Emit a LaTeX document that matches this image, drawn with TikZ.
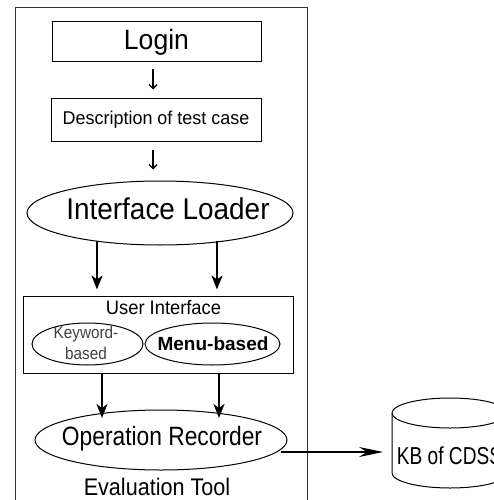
\documentclass[tikz,border=0pt]{standalone}
\usepackage{fontspec}
\usepackage{graphicx}
\setmainfont{Liberation Sans}
\usetikzlibrary{shapes.geometric,arrows.meta}
\begin{document}
\begin{tikzpicture}[x=1pt,y=-1pt,
  box/.style={draw, line width=1pt, inner sep=0pt},
  ell/.style={draw, ellipse, line width=1pt, inner sep=0pt},
  bigarrow/.style={line width=1.8pt, -{Stealth[length=14pt,width=11pt,inset=4pt]}},
  kbarrow/.style={line width=1.5pt, -{Stealth[length=24pt,width=10pt,inset=8pt]}},
  smallarrow/.style={line width=1.3pt, -{Straight Barb[length=4pt,width=8pt]}},
  txt/.style={inner sep=0pt, align=center}
]
\useasboundingbox (0,0) rectangle (494,500);
\clip (0,0) rectangle (494,500);
\fill[white] (0,0) rectangle (494,500);
% outer frame of the evaluation tool
\draw[line width=0.9pt, black!80] (15,506) -- (15,7) -- (307,7) -- (307,506);

\node[box, minimum width=209pt, minimum height=40pt] (login) at (156.5,42)
  {\fontsize{28}{30}\selectfont\scalebox{0.95}[1]{Login}};
\node[box, minimum width=210pt, minimum height=42pt] (desc) at (156,120)
  {\fontsize{18.5}{20}\selectfont\scalebox{0.97}[1]{Description of test case}};

\node[ell, minimum width=266pt, minimum height=64pt] (IL) at (160,213) {};
\node[txt] (ILt) at (168,209) {\fontsize{30}{32}\selectfont\scalebox{0.93}[1]{Interface Loader}};

\node[box, minimum width=270pt, minimum height=77pt] (UI) at (158,334.5) {};
\node[txt] (UIt) at (163.5,308) {\fontsize{19.5}{21}\selectfont\scalebox{0.94}[1]{User Interface}};

\node[ell, minimum width=111pt, minimum height=42pt] (KW) at (87.5,344) {};
\node[txt, text=black!75, font=\fontsize{17}{21}\selectfont] (KWt) at (86,342.5)
  {\scalebox{0.9}[1]{Keyword-}\\\scalebox{0.9}[1]{based}};
\node[ell, minimum width=135pt, minimum height=42pt] (MB) at (212.5,344) {};
\node[txt, font=\bfseries\fontsize{19}{21}\selectfont] (MBt) at (213,344) {Menu-based};

\node[ell, minimum width=252pt, minimum height=60pt] (OR) at (161,440) {};
\node[txt] (ORt) at (162,438.8) {\fontsize{26.5}{28}\selectfont\scalebox{0.86}[1]{Operation Recorder}};

\node[txt] (ET) at (157,486.5) {\fontsize{24}{26}\selectfont\scalebox{0.9}[1]{Evaluation Tool}};

% knowledge base cylinder
\draw[line width=1pt] (392,413) -- (392,473)
  arc[start angle=180, end angle=360, x radius=58pt, y radius=15pt] -- (508,413);
\draw[line width=1pt] (450,413) ellipse[x radius=58pt, y radius=15pt];
\coordinate (KBl) at (392,452);
\node[txt] (KB) at (449.5,456) {\fontsize{24.5}{26}\selectfont\scalebox{0.78}[1]{KB of CDSS}};

% connectors
\coordinate (a0) at (153,0);
\draw[smallarrow, shorten <=7pt, shorten >=9pt] (a0 |- login.south) -- (a0 |- desc.north);
\draw[smallarrow, shorten <=8pt, shorten >=11pt] (a0 |- desc.south) -- (a0 |- IL.north);

\coordinate (a1) at (97,0);
\coordinate (a2) at (217,0);
\draw[bigarrow, shorten <=28pt, shorten >=6pt] (a1 |- IL.center) -- (a1 |- UI.north);
\draw[bigarrow, shorten <=28pt, shorten >=6pt] (a2 |- IL.center) -- (a2 |- UI.north);

\coordinate (b1) at (102,0);
\coordinate (b2) at (219,0);
\draw[bigarrow, shorten >=22pt] (b1 |- UI.south) -- (b1 |- OR.center);
\draw[bigarrow, shorten >=22pt] (b2 |- UI.south) -- (b2 |- OR.center);

\draw[kbarrow, shorten >=9pt] ([xshift=-7pt,yshift=-12pt]OR.east) -- (KBl);
\end{tikzpicture}
\end{document}
